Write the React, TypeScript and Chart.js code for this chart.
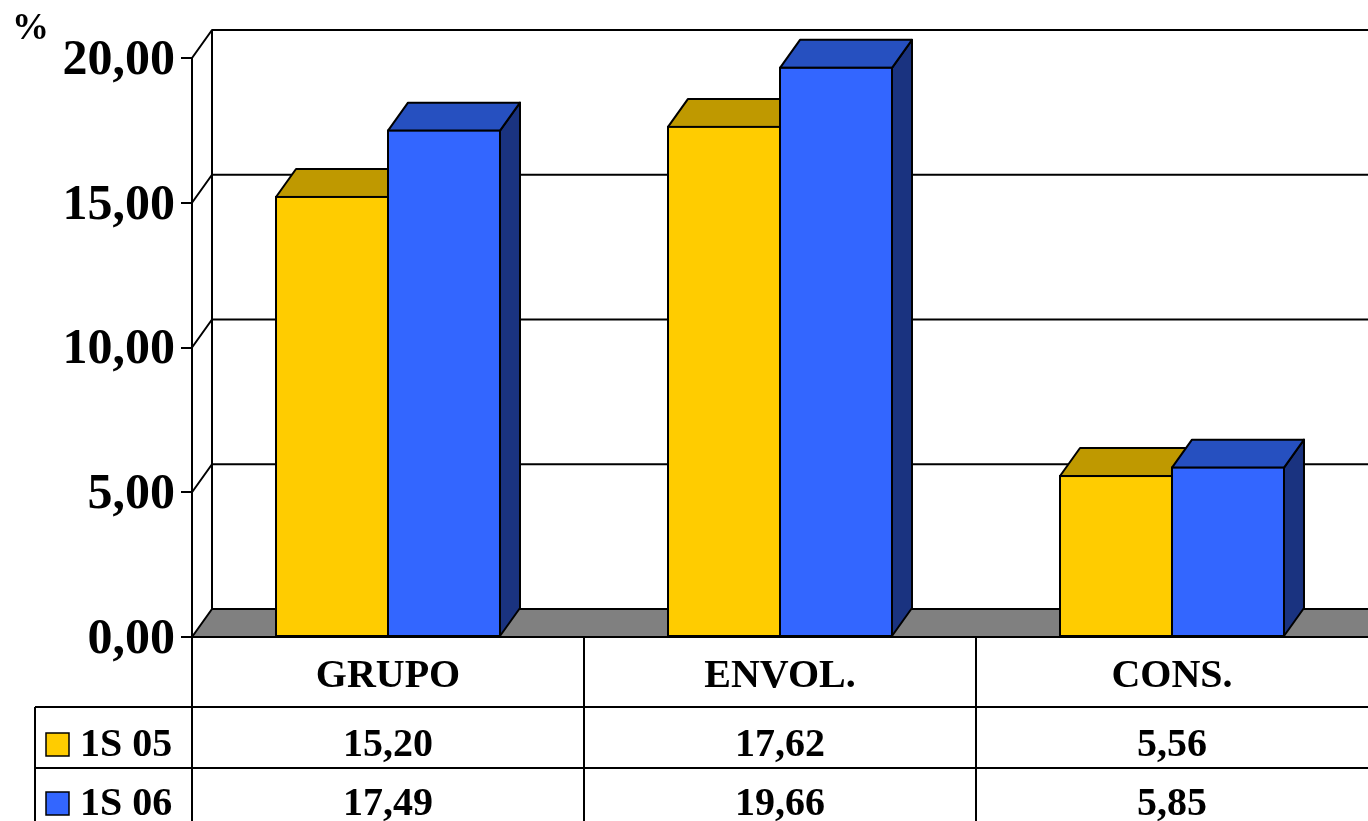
import React, { useEffect, useRef } from "react";
import { Chart, registerables } from "chart.js";

Chart.register(...registerables);

// ---- data ----
const categories = ["GRUPO", "ENVOL.", "CONS."];
const seriesNames = ["1S 05", "1S 06"];
const values05 = [15.2, 17.62, 5.56];
const values06 = [17.49, 19.66, 5.85];
const yTickValues = [0, 5, 10, 15, 20];
const unitLabel = "%";

// ---- styles ----
const FRONT = ["#FFCC00", "#3366FF"];
const TOP = ["#BF9900", "#2650C0"];
const SIDE = ["#8C7000", "#1A3380"];
const FLOOR = "#808080";
const DX = 20;
const DY = 28;
const FONT = "'Liberation Serif', 'Times New Roman', serif";

const fmt = (v: number) => v.toFixed(2).replace(".", ",");

const threeD = {
  id: "threeD",
  beforeDatasetsDraw(chart: any) {
    const ctx = chart.ctx;
    const { left, right } = chart.chartArea;
    const ys = chart.scales.y;
    const yTop = ys.getPixelForValue(ys.max);
    const y0 = ys.getPixelForValue(0);
    ctx.save();
    ctx.lineWidth = 2;
    ctx.strokeStyle = "#000";
    ctx.lineJoin = "round";
    // floor
    ctx.fillStyle = FLOOR;
    ctx.beginPath();
    ctx.moveTo(left, y0);
    ctx.lineTo(right + DX + 40, y0);
    ctx.lineTo(right + DX + 40, y0 - DY);
    ctx.lineTo(left + DX, y0 - DY);
    ctx.closePath();
    ctx.fill();
    // back wall lines and diagonals
    ctx.beginPath();
    for (const v of yTickValues) {
      const py = ys.getPixelForValue(v);
      ctx.moveTo(left, py);
      ctx.lineTo(left + DX, py - DY);
      ctx.lineTo(right + DX + 40, py - DY);
    }
    ctx.moveTo(left + DX, yTop - DY);
    ctx.lineTo(left + DX, y0 - DY);
    ctx.stroke();
    // bar side + top faces
    for (let i = 0; i < categories.length; i++) {
      for (let d = 0; d < chart.data.datasets.length; d++) {
        const bar = chart.getDatasetMeta(d).data[i];
        const p = bar.getProps(["x", "y", "base", "width"], true);
        const l = p.x - p.width / 2;
        const r = p.x + p.width / 2;
        ctx.fillStyle = SIDE[d];
        ctx.beginPath();
        ctx.moveTo(r, p.y);
        ctx.lineTo(r + DX, p.y - DY);
        ctx.lineTo(r + DX, p.base - DY);
        ctx.lineTo(r, p.base);
        ctx.closePath();
        ctx.fill();
        ctx.stroke();
        ctx.fillStyle = TOP[d];
        ctx.beginPath();
        ctx.moveTo(l, p.y);
        ctx.lineTo(l + DX, p.y - DY);
        ctx.lineTo(r + DX, p.y - DY);
        ctx.lineTo(r, p.y);
        ctx.closePath();
        ctx.fill();
        ctx.stroke();
      }
    }
    ctx.restore();
  },
  afterDatasetsDraw(chart: any) {
    const ctx = chart.ctx;
    const { left, right } = chart.chartArea;
    const y0 = chart.scales.y.getPixelForValue(0);
    ctx.save();
    ctx.lineWidth = 2;
    ctx.strokeStyle = "#000";
    for (let d = 0; d < chart.data.datasets.length; d++) {
      for (const bar of chart.getDatasetMeta(d).data) {
        const p = bar.getProps(["x", "y", "base", "width"], true);
        ctx.strokeRect(p.x - p.width / 2, p.y, p.width, p.base - p.y);
      }
    }
    ctx.beginPath();
    ctx.moveTo(left, y0);
    ctx.lineTo(right, y0);
    ctx.stroke();
    ctx.restore();
  },
  afterDraw(chart: any) {
    const ctx = chart.ctx;
    const { left, right } = chart.chartArea;
    const xs = chart.scales.x;
    const y0 = chart.scales.y.getPixelForValue(0);
    const catW = xs.getPixelForValue(1) - xs.getPixelForValue(0);
    const row1 = y0 + 70;
    const row2 = y0 + 131;
    const bottom = y0 + 192;
    const legendLeft = 35;
    ctx.save();
    ctx.lineWidth = 2;
    ctx.strokeStyle = "#000";
    ctx.beginPath();
    // vertical lines
    ctx.moveTo(left, y0);
    ctx.lineTo(left, bottom);
    for (let i = 1; i < categories.length; i++) {
      const bx = xs.getPixelForValue(i) - catW / 2;
      ctx.moveTo(bx, y0);
      ctx.lineTo(bx, bottom);
    }
    ctx.moveTo(legendLeft, row1);
    ctx.lineTo(legendLeft, bottom);
    // horizontal lines
    for (const ry of [row1, row2, bottom]) {
      ctx.moveTo(legendLeft, ry);
      ctx.lineTo(right, ry);
    }
    ctx.stroke();

    ctx.fillStyle = "#000";
    ctx.font = `bold 40px ${FONT}`;
    ctx.textAlign = "center";
    ctx.textBaseline = "alphabetic";
    categories.forEach((c, i) => {
      ctx.fillText(c, xs.getPixelForValue(i), y0 + 50);
    });
    const rows = [values05, values06];
    const baselines = [row1 + 49, row2 + 47];
    rows.forEach((vals, r) => {
      vals.forEach((v, i) => {
        ctx.fillText(fmt(v), xs.getPixelForValue(i), baselines[r]);
      });
    });
    // legend keys
    ctx.textAlign = "left";
    seriesNames.forEach((name, r) => {
      const sy = baselines[r] - 23;
      ctx.fillStyle = FRONT[r];
      ctx.fillRect(46, sy, 23, 23);
      ctx.lineWidth = 1.5;
      ctx.strokeRect(46, sy, 23, 23);
      ctx.fillStyle = "#000";
      ctx.fillText(name, 80, baselines[r]);
    });
    // unit label
    ctx.font = `bold 37px ${FONT}`;
    ctx.fillText(unitLabel, 12, 39);
    ctx.restore();
  },
};

export default function App() {
  const ref = useRef<HTMLCanvasElement | null>(null);
  useEffect(() => {
    if (!ref.current) return;
    const chart = new Chart(ref.current, {
      type: "bar",
      data: {
        labels: categories,
        datasets: [
          {
            label: seriesNames[0],
            data: values05,
            backgroundColor: FRONT[0],
            borderWidth: 0,
            categoryPercentage: 0.5714,
            barPercentage: 1,
          },
          {
            label: seriesNames[1],
            data: values06,
            backgroundColor: FRONT[1],
            borderWidth: 0,
            categoryPercentage: 0.5714,
            barPercentage: 1,
          },
        ],
      },
      options: {
        responsive: false,
        animation: false,
        layout: { padding: { top: 58, bottom: 184, left: 0, right: 0 } },
        plugins: {
          legend: { display: false },
          tooltip: { enabled: false },
          title: { display: false },
        },
        scales: {
          x: { display: false },
          y: {
            min: 0,
            max: 20,
            afterFit: (scale: any) => {
              scale.width = 192;
            },
            afterBuildTicks: (scale: any) => {
              scale.ticks = yTickValues.map((v) => ({ value: v }));
            },
            ticks: {
              callback: (v: any) => fmt(Number(v)),
              color: "#000",
              padding: 6,
              labelOffset: 3,
              font: { family: FONT, size: 50, weight: "bold" },
            },
            grid: {
              drawOnChartArea: false,
              drawTicks: true,
              tickLength: 11,
              color: "#000",
              lineWidth: 2,
            },
            border: { display: true, color: "#000", width: 2 },
          },
        },
      },
      plugins: [threeD],
    } as any);
    return () => chart.destroy();
  }, []);
  return (
    <div style={{ position: "absolute", left: 0, top: 0, width: 1368, height: 821 }}>
      <canvas ref={ref} width={1368} height={821} style={{ display: "block" }} />
    </div>
  );
}
